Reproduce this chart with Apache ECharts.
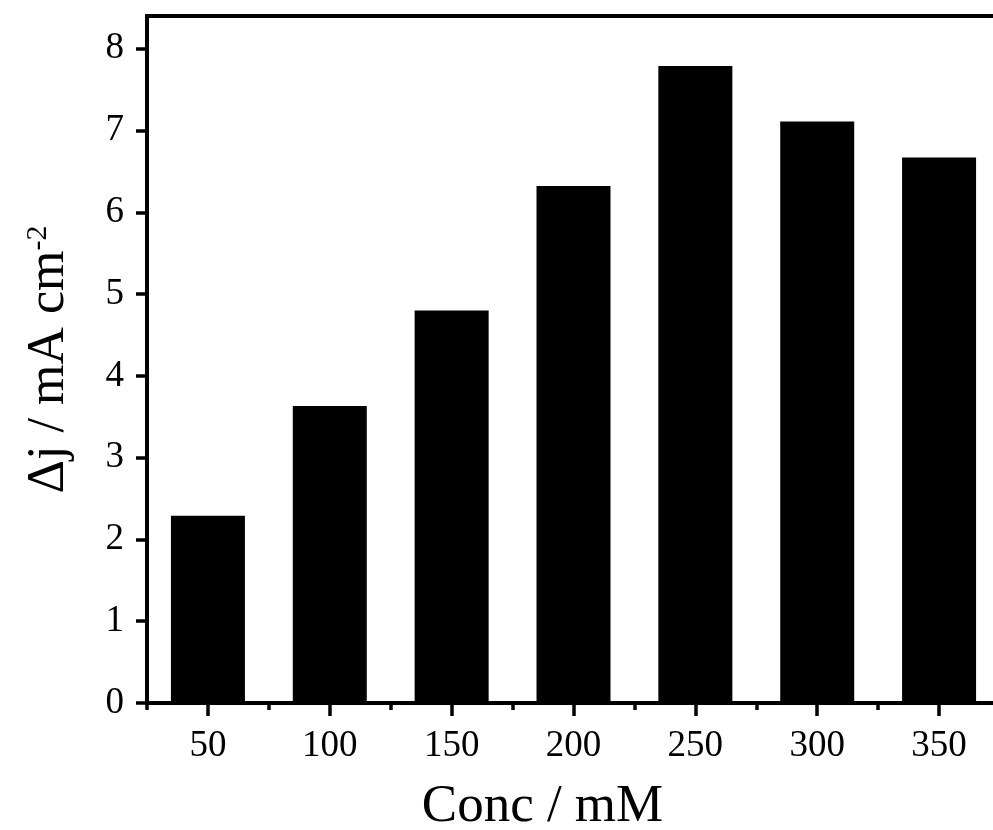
<!DOCTYPE html>
<html>
<head>
<meta charset="utf-8">
<script src="https://cdn.jsdelivr.net/npm/echarts@6/dist/echarts.min.js"></script>
<style>
  html, body { margin: 0; padding: 0; background: #fff; }
  #chart { width: 993px; height: 830px; }
</style>
</head>
<body>
<div id="chart"></div>
<script>
// Concentration categories (mM) and current density change values
const categories = ['50', '100', '150', '200', '250', '300', '350'];
const deltaJ = [2.29, 3.63, 4.80, 6.32, 7.79, 7.11, 6.67];
const yTicks = [0, 1, 2, 3, 4, 5, 6, 7, 8];

const serif = "'Liberation Serif', 'Times New Roman', serif";
const black = '#000';

const chart = echarts.init(document.getElementById('chart'), null, { renderer: 'canvas' });

chart.setOption({
  animation: false,
  backgroundColor: '#fff',
  grid: {
    left: 147,
    top: 16,
    width: 853,
    height: 687,
    outerBoundsMode: 'none',
    containLabel: false,
    show: true,
    borderColor: black,
    borderWidth: 4,
    backgroundColor: 'transparent'
  },
  xAxis: [
    {
      type: 'category',
      data: categories,
      position: 'bottom',
      axisLine: { show: true, lineStyle: { color: black, width: 4 } },
      axisTick: { show: true, alignWithLabel: true, interval: 0, length: 13, lineStyle: { color: black, width: 3.5 } },
      axisLabel: { interval: 0, margin: 25, color: black, fontFamily: serif, fontSize: 37 },
      name: 'Conc / mM',
      nameLocation: 'middle',
      nameGap: 78,
      nameTextStyle: { color: black, fontFamily: serif, fontSize: 53, padding: [0, 62, 0, 0] }
    },
    {
      // short ticks on the category boundaries
      type: 'category',
      data: categories,
      position: 'bottom',
      axisLine: { show: false },
      axisTick: { show: true, interval: 0, length: 7, lineStyle: { color: black, width: 3.5 } },
      axisLabel: { show: false }
    }
  ],
  yAxis: {
    type: 'value',
    min: 0,
    max: 8.4,
    interval: 1,
    splitLine: { show: false },
    axisLine: { show: true, lineStyle: { color: black, width: 4 } },
    axisTick: { show: true, length: 11, customValues: yTicks, lineStyle: { color: black, width: 3.5 } },
    axisLabel: { customValues: yTicks, margin: 23, color: black, fontFamily: serif, fontSize: 37 },
    name: '{m|Δj / mA cm}{s|-2}',
    nameLocation: 'middle',
    nameGap: 72,
    nameTextStyle: {
      color: black,
      fontFamily: serif,
      rich: {
        m: { fontFamily: serif, fontSize: 52, color: black },
        s: { fontFamily: serif, fontSize: 30, color: black, verticalAlign: 'top' }
      }
    }
  },
  series: [
    {
      type: 'bar',
      xAxisIndex: 0,
      data: deltaJ,
      barWidth: 74,
      itemStyle: { color: black }
    }
  ]
});
</script>
</body>
</html>
